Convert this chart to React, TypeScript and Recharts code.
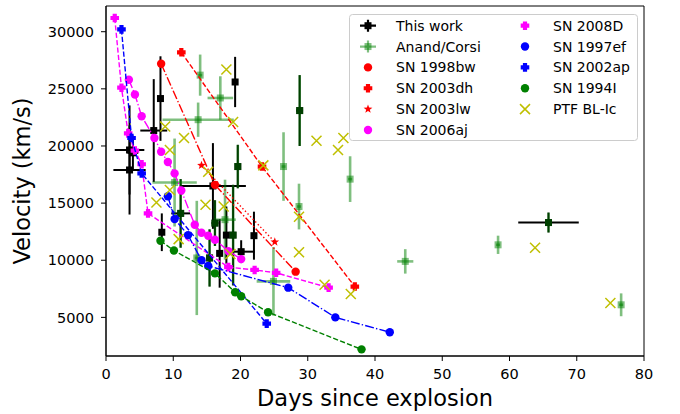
import React from "react";
import { ScatterChart, Scatter, XAxis, YAxis, ErrorBar, ReferenceArea, Legend } from "recharts";

const X_TICKS = [0, 10, 20, 30, 40, 50, 60, 70, 80];
const Y_TICKS = [5000, 10000, 15000, 20000, 25000, 30000];
const Y_MIN = 1620;
const Y_MAX = 32250;

// [day, velocity, dayErr, velErr]
const THIS_WORK = [
  [3.5, 19650, 2.2, 3900], [4.0, 19400, 0.8, 1500], [3.5, 17900, 2.4, 3900],
  [7.1, 21350, 2.0, 4500], [8.1, 24150, 0.3, 3700], [8.3, 12450, 0.3, 1650],
  [11.1, 14100, 1.4, 3000], [15.9, 16500, 4.9, 3750], [16.2, 13250, 0.5, 2000],
  [15.4, 10200, 0.5, 2500], [17.9, 12200, 0.3, 2500], [18.9, 12200, 0.3, 4400],
  [16.9, 10600, 0.3, 3000], [20.1, 10750, 2.0, 1000], [22.0, 12150, 0.3, 2100],
  [19.6, 18200, 0.3, 1900], [19.2, 25600, 0.3, 2200], [28.8, 23100, 0.5, 3100],
  [65.8, 13300, 4.5, 870],
];

const ANAND_CORSI = [
  [14.0, 26200, 0.3, 1800], [17.0, 24200, 1.9, 1900], [13.7, 22300, 5.3, 1500],
  [10.2, 16800, 3.3, 3850], [11.1, 14100, 0.3, 3000], [16.2, 13250, 0.5, 2000],
  [17.7, 13550, 1.6, 3500], [15.4, 10200, 0.5, 2500], [18.9, 12200, 0.3, 4400],
  [19.6, 18200, 0.3, 1900], [13.5, 10200, 0.3, 5000], [24.9, 8150, 2.5, 3000],
  [26.4, 18200, 0.3, 3000], [28.7, 14700, 0.3, 2000], [28.8, 23100, 0.5, 3100],
  [36.3, 17100, 0.3, 2000], [44.5, 9900, 1.2, 1070], [58.3, 11350, 0.3, 800],
  [65.8, 13300, 0.3, 870], [76.6, 6100, 0.3, 1000],
];

// [day, velocity]
const SN1998BW = [[8.2, 27200], [16.2, 16600], [28.2, 9000]];
const SN2003DH = [[11.2, 28200], [23.2, 18200], [37.0, 7700]];
const SN2003LW = [[14.2, 18300], [25.1, 11600]];
const SN2006AJ = [
  [3.4, 25800], [4.3, 24500], [5.3, 22600], [7.2, 20700], [8.2, 19500], [9.2, 18600],
  [10.2, 17600], [11.2, 16100], [13.2, 13100], [14.2, 12400], [15.2, 12150],
  [16.2, 11800], [18.2, 10800], [20.1, 10100],
];
const SN2008D = [
  [1.3, 31200], [2.3, 25100], [3.3, 21100], [4.3, 19600], [5.3, 18400], [6.25, 14100],
  [18.2, 9400], [22.1, 9150], [25.3, 8900], [33.1, 7600],
];
const SN1997EF = [
  [9.2, 15600], [10.2, 13600], [12.2, 12200], [14.2, 10000], [15.2, 9500],
  [27.1, 7600], [34.1, 5000], [42.2, 3700],
];
const SN2002AP = [[2.3, 30200], [3.8, 20700], [5.3, 17600], [23.9, 4450]];
const SN1994I = [
  [8.1, 11700], [10.1, 10850], [16.2, 8850], [19.2, 7200], [20.1, 6850], [24.1, 5450], [38.0, 2200],
];
const PTF_BLIC = [
  [7.5, 15050], [8.8, 21700], [9.5, 19650], [9.5, 16150], [10.8, 11850], [11.6, 20700],
  [14.8, 14850], [15.2, 17750], [17.5, 14700], [17.9, 26700], [18.5, 10550], [18.9, 22100],
  [23.4, 18300], [28.7, 13800], [28.7, 10700], [31.3, 20450], [32.5, 7850], [34.5, 19650],
  [35.3, 20700], [36.4, 7050], [63.8, 11100], [75.0, 6250],
];

const pts = (a: number[][]) => a.map(([x, y]) => ({ x, y }));
const errPts = (a: number[][]) => a.map(([x, y, xe, ye]) => ({ x, y, xe, ye }));

const RED = "#ff0000";
const MAGENTA = "#ff00ff";
const BLUE = "#0000ff";
const GREEN = "#008000";
const OLIVE = "#bfbf00";

const DASHED = "5.2 2.2";
const DASHDOT = "9 2.2 1.4 2.2";
const DOTTED = "1.4 2.3";

function plusPath(cx: number, cy: number, r: number, a: number) {
  const b = r - a;
  return `M${cx - a},${cy - r}h${2 * a}v${b}h${b}v${2 * a}h${-b}v${b}h${-2 * a}v${-b}h${-b}v${-2 * a}h${b}z`;
}

function starPoints(cx: number, cy: number, ro: number, ri: number) {
  const out: string[] = [];
  for (let i = 0; i < 10; i++) {
    const r = i % 2 === 0 ? ro : ri;
    const ang = -Math.PI / 2 + (i * Math.PI) / 5;
    out.push(`${cx + r * Math.cos(ang)},${cy + r * Math.sin(ang)}`);
  }
  return out.join(" ");
}

const dotIcon = (cx: number, cy: number, fill: string) => <circle cx={cx} cy={cy} r={4.2} fill={fill} />;
const plusIcon = (cx: number, cy: number, fill: string) => <path d={plusPath(cx, cy, 4.3, 2.1)} fill={fill} />;
const starIcon = (cx: number, cy: number, fill: string) => <polygon points={starPoints(cx, cy, 4.6, 1.9)} fill={fill} />;
const crossIcon = (cx: number, cy: number, stroke: string) => (
  <path d={`M${cx - 5},${cy - 5}L${cx + 5},${cy + 5}M${cx - 5},${cy + 5}L${cx + 5},${cy - 5}`} stroke={stroke} strokeWidth={1.5} fill="none" />
);
const squareIcon = (cx: number, cy: number, fill: string, op = 1) => (
  <rect x={cx - 3.5} y={cy - 3.5} width={7} height={7} fill={fill} fillOpacity={op} />
);

const shape = (fn: (cx: number, cy: number, c: string, op?: number) => React.ReactElement, c: string, op?: number) =>
  (p: any) => fn(p.cx, p.cy, c, op);

const LEGEND_ITEMS = [
  { label: "This work", col: 0, row: 0, kind: "err", color: "#000", op: 1 },
  { label: "Anand/Corsi", col: 0, row: 1, kind: "err", color: GREEN, op: 0.5 },
  { label: "SN 1998bw", col: 0, row: 2, kind: "dot", color: RED },
  { label: "SN 2003dh", col: 0, row: 3, kind: "plus", color: RED },
  { label: "SN 2003lw", col: 0, row: 4, kind: "star", color: RED },
  { label: "SN 2006aj", col: 0, row: 5, kind: "dot", color: MAGENTA },
  { label: "SN 2008D", col: 1, row: 0, kind: "plus", color: MAGENTA },
  { label: "SN 1997ef", col: 1, row: 1, kind: "dot", color: BLUE },
  { label: "SN 2002ap", col: 1, row: 2, kind: "plus", color: BLUE },
  { label: "SN 1994I", col: 1, row: 3, kind: "dot", color: GREEN },
  { label: "PTF BL-Ic", col: 1, row: 4, kind: "x", color: OLIVE },
];

function LegendBox() {
  return (
    <svg width={290} height={128} style={{ fontFamily: "'DejaVu Sans', sans-serif" }}>
      <rect x={0.5} y={0.5} width={288} height={126} rx={3} fill="#fff" fillOpacity={0.8} stroke="#cccccc" />
      {LEGEND_ITEMS.map((it) => {
        const mx = it.col === 0 ? 19 : 176;
        const tx = it.col === 0 ? 47 : 204;
        const y = 11.7 + it.row * 20.85;
        let icon: React.ReactElement;
        if (it.kind === "err") {
          icon = (
            <g>
              <path d={`M${mx - 8},${y}H${mx + 8}M${mx},${y - 6}V${y + 6}`} stroke={it.color} strokeOpacity={it.op} strokeWidth={2.2} />
              {squareIcon(mx, y, it.color, it.op)}
            </g>
          );
        } else if (it.kind === "dot") icon = dotIcon(mx, y, it.color);
        else if (it.kind === "plus") icon = plusIcon(mx, y, it.color);
        else if (it.kind === "star") icon = starIcon(mx, y, it.color);
        else icon = crossIcon(mx, y, it.color);
        return (
          <g key={it.label}>
            {icon}
            <text x={tx} y={y} fontSize={14} dominantBaseline="central" fill="#000">{it.label}</text>
          </g>
        );
      })}
    </svg>
  );
}

const lineStyle = (stroke: string, dash: string) => ({ stroke, strokeWidth: 1.4, strokeDasharray: dash, fill: "none" });

export default function App() {
  const tw = errPts(THIS_WORK);
  const ac = errPts(ANAND_CORSI);
  return (
    <div style={{ position: "absolute", left: 0, top: 0, background: "#fff", fontFamily: "'DejaVu Sans', sans-serif" }}>
      <ScatterChart width={680} height={414} margin={{ top: 6, right: 36, bottom: 0, left: 0 }}>
        <XAxis
          type="number" dataKey="x" domain={[0, 80]} ticks={X_TICKS} allowDataOverflow height={58}
          tickSize={5} tickMargin={8} tick={{ fill: "#000", fontSize: 14.5 }}
          axisLine={{ stroke: "#000" }} tickLine={{ stroke: "#000" }}
          label={{ value: "Days since explosion", position: "insideBottom", offset: 8, style: { fontSize: 22.5, fill: "#000" } }}
        />
        <YAxis
          type="number" dataKey="y" domain={[Y_MIN, Y_MAX]} ticks={Y_TICKS} allowDataOverflow width={106}
          tickSize={5} tickMargin={7} tick={{ fill: "#000", fontSize: 14.5 }}
          axisLine={{ stroke: "#000" }} tickLine={{ stroke: "#000" }}
          label={{ value: "Velocity (km/s)", angle: -90, position: "insideLeft", offset: 22, style: { fontSize: 22.5, fill: "#000", textAnchor: "middle" } }}
        />
        <ReferenceArea x1={0} x2={80} y1={Y_MIN} y2={Y_MAX} fill="none" stroke="#000" strokeWidth={1} fillOpacity={0} />

        <Scatter name="This work" data={tw} shape={shape(squareIcon, "#000")} isAnimationActive={false}>
          <ErrorBar dataKey="ye" direction="y" width={0} stroke="#000" strokeWidth={2} />
          <ErrorBar dataKey="xe" direction="x" width={0} stroke="#000" strokeWidth={2} />
        </Scatter>
        <Scatter name="Anand/Corsi" data={ac} shape={shape(squareIcon, GREEN, 0.5)} isAnimationActive={false}>
          <ErrorBar dataKey="ye" direction="y" width={0} stroke="rgba(0,128,0,0.5)" strokeWidth={2.6} />
          <ErrorBar dataKey="xe" direction="x" width={0} stroke="rgba(0,128,0,0.5)" strokeWidth={2.6} />
        </Scatter>

        <Scatter name="SN 1998bw" data={pts(SN1998BW)} shape={shape(dotIcon, RED)} line={lineStyle(RED, DASHDOT)} lineType="joint" isAnimationActive={false} />
        <Scatter name="SN 2003dh" data={pts(SN2003DH)} shape={shape(plusIcon, RED)} line={lineStyle(RED, DASHED)} lineType="joint" isAnimationActive={false} />
        <Scatter name="SN 2003lw" data={pts(SN2003LW)} shape={shape(starIcon, RED)} line={lineStyle(RED, DOTTED)} lineType="joint" isAnimationActive={false} />
        <Scatter name="SN 2006aj" data={pts(SN2006AJ)} shape={shape(dotIcon, MAGENTA)} line={lineStyle(MAGENTA, DASHDOT)} lineType="joint" isAnimationActive={false} />
        <Scatter name="SN 2008D" data={pts(SN2008D)} shape={shape(plusIcon, MAGENTA)} line={lineStyle(MAGENTA, DASHED)} lineType="joint" isAnimationActive={false} />
        <Scatter name="SN 1997ef" data={pts(SN1997EF)} shape={shape(dotIcon, BLUE)} line={lineStyle(BLUE, DASHDOT)} lineType="joint" isAnimationActive={false} />
        <Scatter name="SN 2002ap" data={pts(SN2002AP)} shape={shape(plusIcon, BLUE)} line={lineStyle(BLUE, DASHED)} lineType="joint" isAnimationActive={false} />
        <Scatter name="SN 1994I" data={pts(SN1994I)} shape={shape(dotIcon, GREEN)} line={lineStyle(GREEN, DASHED)} lineType="joint" isAnimationActive={false} />
        <Scatter name="PTF BL-Ic" data={pts(PTF_BLIC)} shape={shape(crossIcon, OLIVE)} isAnimationActive={false} />

        <Legend
          layout="horizontal" verticalAlign="middle" align="center"
          content={() => <LegendBox />}
          wrapperStyle={{ position: "absolute", left: 349, top: 14, width: 290, height: 128 }}
        />
      </ScatterChart>
    </div>
  );
}
